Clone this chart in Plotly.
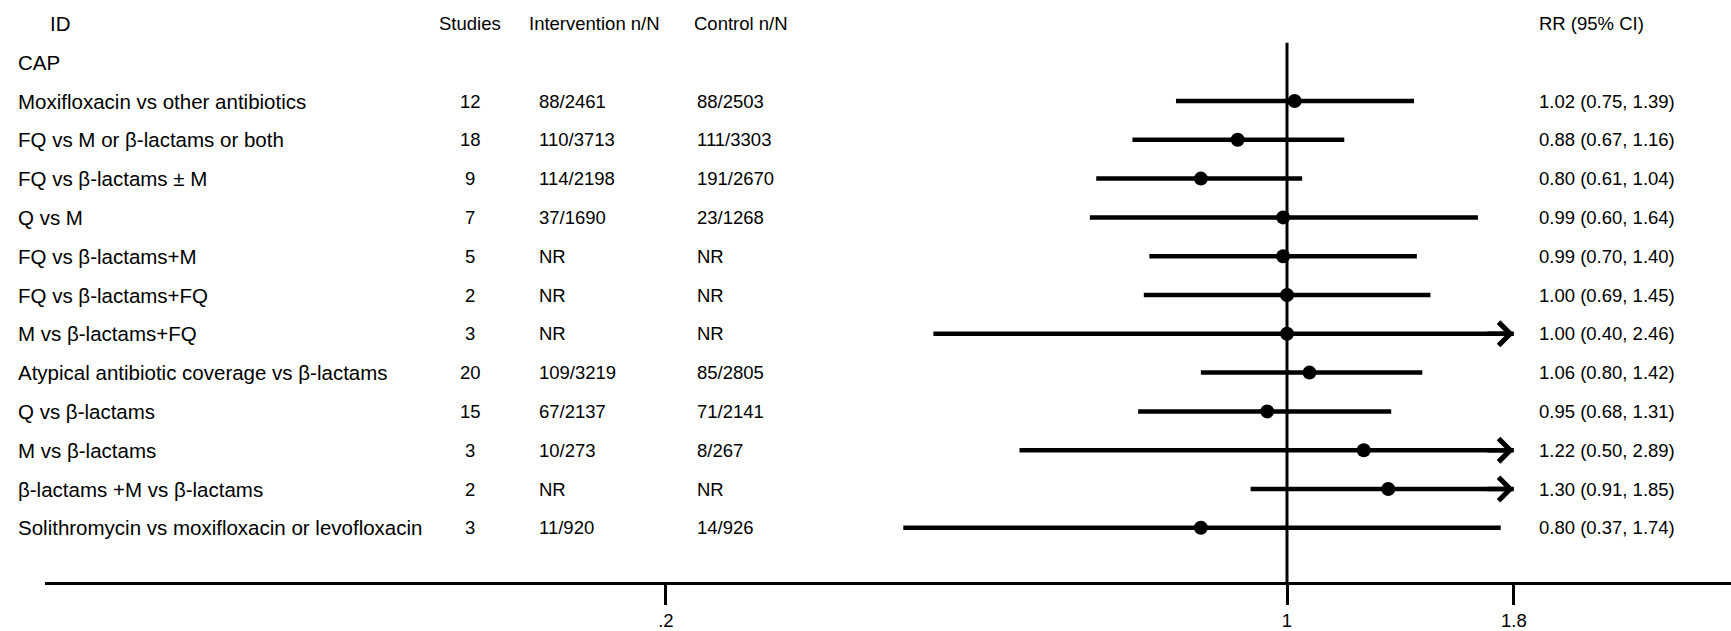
import numpy as np
import plotly.graph_objects as go

# ---------------- data ----------------
labels = [
    "Moxifloxacin vs other antibiotics",
    "FQ vs M or β-lactams or both",
    "FQ vs β-lactams ± M",
    "Q vs M",
    "FQ vs β-lactams+M",
    "FQ vs β-lactams+FQ",
    "M vs β-lactams+FQ",
    "Atypical antibiotic coverage vs β-lactams",
    "Q vs β-lactams",
    "M vs β-lactams",
    "β-lactams +M vs β-lactams",
    "Solithromycin vs moxifloxacin or levofloxacin",
]
studies = [12, 18, 9, 7, 5, 2, 3, 20, 15, 3, 2, 3]
intervention = ["88/2461", "110/3713", "114/2198", "37/1690", "NR", "NR", "NR",
                "109/3219", "67/2137", "10/273", "NR", "11/920"]
control = ["88/2503", "111/3303", "191/2670", "23/1268", "NR", "NR", "NR",
           "85/2805", "71/2141", "8/267", "NR", "14/926"]
rr = [1.02, 0.88, 0.80, 0.99, 0.99, 1.00, 1.00, 1.06, 0.95, 1.22, 1.30, 0.80]
lo = [0.75, 0.67, 0.61, 0.60, 0.70, 0.69, 0.40, 0.80, 0.68, 0.50, 0.91, 0.37]
hi = [1.39, 1.16, 1.04, 1.64, 1.40, 1.45, 2.46, 1.42, 1.31, 2.89, 1.85, 1.74]

group_label = "CAP"
headers = ["ID", "Studies", "Intervention n/N", "Control n/N", "RR (95% CI)"]
tick_vals = [0.2, 1, 1.8]
tick_text = [".2", "1", "1.8"]
x_max = 1.8  # axis clip; CIs beyond get an arrow

# ---------------- layout constants ----------------
W, H = 1731, 631
FONT = "Liberation Sans, Arial, sans-serif"
FS = 18.5
FS_ID = 20.5
col_id = 16 / W
col_id_hdr = 48 / W
col_studies = 470 / W
col_int = 537 / W
col_ctl = 695 / W
col_rr = 1537 / W

rows = list(range(1, len(labels) + 1))

fig = go.Figure()

# reference line at RR = 1
fig.add_trace(go.Scatter(x=[1, 1], y=[-0.5, 13.6], mode="lines",
                         line=dict(color="black", width=3),
                         hoverinfo="skip", showlegend=False, cliponaxis=True))

annotations = []
for i, r in enumerate(rows):
    upper = min(hi[i], x_max)
    fig.add_trace(go.Scatter(x=[lo[i], upper], y=[r, r], mode="lines",
                             line=dict(color="black", width=4.5),
                             hoverinfo="skip", showlegend=False))
    if hi[i] > x_max:
        annotations.append(dict(
            x=np.log10(x_max), y=r, xref="x", yref="y",
            ax=np.log10(x_max * 0.93), ay=r, axref="x", ayref="y",
            showarrow=True, arrowhead=4, arrowsize=1.0, arrowwidth=4.5,
            arrowcolor="black", text=""))

fig.add_trace(go.Scatter(x=rr, y=rows, mode="markers",
                         marker=dict(symbol="circle", size=14, color="black",
                                     line=dict(width=0)),
                         hoverinfo="skip", showlegend=False))

def txt(x, y, s, anchor="left", size=FS):
    annotations.append(dict(x=x, y=y, xref="paper", yref="y", text=s,
                            showarrow=False, xanchor=anchor, yanchor="middle",
                            font=dict(family=FONT, size=size, color="black")))

# headers
txt(col_id_hdr, -1, headers[0], size=FS_ID)
txt(col_studies, -1, headers[1], "center")
txt(col_int - 10 / W, -1, headers[2])
txt(col_ctl - 3 / W, -1, headers[3])
txt(col_rr, -1, headers[4])
txt(col_id, 0, group_label, size=FS_ID)

for i, r in enumerate(rows):
    txt(col_id, r, labels[i], size=FS_ID)
    txt(col_studies, r, str(studies[i]), "center")
    txt(col_int, r, intervention[i])
    txt(col_ctl, r, control[i])
    txt(col_rr, r, f"{rr[i]:.2f} ({lo[i]:.2f}, {hi[i]:.2f})")

# axis mapping: x pixel = 1287 + 888.6*log10(v)
px_per_dec = 888.6
x_one = 1287
left_px = 45
dom0 = left_px / W
rng = [(left_px - x_one) / px_per_dec, (W - x_one) / px_per_dec]

row_px = 38.8
row1_px = 101
axis_px = 582
y_top = 1 - row1_px / row_px
y_bot = 1 + (axis_px - row1_px) / row_px

fig.update_layout(
    width=W, height=H,
    margin=dict(l=0, r=0, t=0, b=H - axis_px),
    paper_bgcolor="white", plot_bgcolor="white",
    font=dict(family=FONT, size=FS, color="black"),
    xaxis=dict(type="log", range=rng, domain=[dom0, 1],
               showgrid=False, zeroline=False,
               showline=True, linecolor="black", linewidth=3,
               ticks="outside", ticklen=20, tickwidth=3, tickcolor="black",
               tickvals=tick_vals, ticktext=tick_text,
               tickfont=dict(family=FONT, size=FS, color="black")),
    yaxis=dict(range=[y_bot, y_top], visible=False, showgrid=False,
               zeroline=False),
    annotations=annotations,
    showlegend=False,
)

fig.write_html("out.html")
